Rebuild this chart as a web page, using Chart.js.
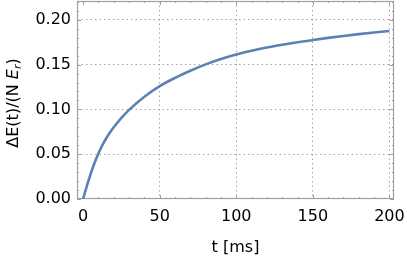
<!DOCTYPE html>
<html>
<head>
<meta charset="utf-8">
<script src="https://cdn.jsdelivr.net/npm/chart.js@4"></script>
<style>
  html, body { margin: 0; padding: 0; background: #fff; }
  #wrap { width: 407px; height: 262px; }
</style>
</head>
<body>
<div id="wrap"><canvas id="myChart"></canvas></div>
<script>
// values
const timeMs = [0, 2.5, 5, 7.5, 10, 12.5, 15, 17.5, 20, 25, 30, 40, 50, 60, 70, 80, 90, 100,
    110, 120, 130, 140, 150, 160, 170, 180, 190, 200];
const energy = [0, 0.0150, 0.0285, 0.0405, 0.0508, 0.0598, 0.0675, 0.0742, 0.0800, 0.0905, 0.0995,
    0.1142, 0.1260, 0.1352, 0.1432, 0.1503, 0.1563, 0.1613, 0.1654, 0.1690, 0.1721, 0.1749,
    0.1774, 0.1798, 0.1820, 0.1840, 0.1858, 0.1875];

const xTicks = [0, 50, 100, 150, 200];
const yTicks = [0, 0.05, 0.10, 0.15, 0.20];

const fontFamily = "'DejaVu Sans', sans-serif";
const lineColor = '#5e81b5';
const gridColor = 'rgba(150,150,150,0.85)';
const frameColor = '#a0a0a0';

// Mathematica-like frame with inward ticks on all four sides
const framePlugin = {
    id: 'frame',
    beforeDatasetsDraw(chart) {
        const {ctx, chartArea: a, scales: {x, y}} = chart;
        ctx.save();
        ctx.strokeStyle = frameColor;
        ctx.lineWidth = 1;
        ctx.beginPath();
        for (let v = 0; v <= 200; v += 10) {
            const px = Math.round(x.getPixelForValue(v)) + 0.5;
            const len = v % 50 === 0 ? 4 : 2;
            ctx.moveTo(px, a.bottom); ctx.lineTo(px, a.bottom - len);
            ctx.moveTo(px, a.top); ctx.lineTo(px, a.top + len);
        }
        for (let i = 0; i <= 22; i++) {
            const py = Math.round(y.getPixelForValue(i / 100)) + 0.5;
            const len = i % 5 === 0 ? 4 : 2;
            ctx.moveTo(a.left, py); ctx.lineTo(a.left + len, py);
            ctx.moveTo(a.right, py); ctx.lineTo(a.right - len, py);
        }
        ctx.stroke();
        ctx.lineWidth = 1.2;
        ctx.strokeRect(Math.round(a.left) + 0.5, Math.round(a.top) + 0.5,
            Math.round(a.right - a.left) - 1, Math.round(a.bottom - a.top) - 1);
        ctx.restore();
    }
};

// y axis title with italic E and subscript r
const yTitlePlugin = {
    id: 'yTitle',
    afterDraw(chart) {
        const {ctx, chartArea: a} = chart;
        const parts = [
            {t: '\u0394E(t)/(N ', f: `16px ${fontFamily}`, dy: 0},
            {t: 'E', f: `italic 16px ${fontFamily}`, dy: 0},
            {t: 'r', f: `italic 11px ${fontFamily}`, dy: 4},
            {t: ')', f: `16px ${fontFamily}`, dy: 0}
        ];
        ctx.save();
        let total = 0;
        parts.forEach(p => { ctx.font = p.f; p.w = ctx.measureText(p.t).width; total += p.w; });
        ctx.translate(14, (a.top + a.bottom) / 2 + 3);
        ctx.rotate(-Math.PI / 2);
        ctx.fillStyle = '#000';
        ctx.textBaseline = 'middle';
        let cx = -total / 2;
        parts.forEach(p => {
            ctx.font = p.f;
            ctx.fillText(p.t, cx, p.dy);
            cx += p.w;
        });
        ctx.restore();
    }
};

const chart = new Chart(document.getElementById('myChart'), {
    type: 'line',
    data: {
        datasets: [{
            data: timeMs.map((t, i) => ({x: t, y: energy[i]})),
            borderColor: lineColor,
            borderWidth: 2.6,
            pointRadius: 0,
            fill: false,
            cubicInterpolationMode: 'monotone'
        }]
    },
    options: {
        responsive: true,
        maintainAspectRatio: false,
        animation: false,
        layout: {padding: {left: 0, top: 1, right: 13, bottom: 0}},
        plugins: {legend: {display: false}, tooltip: {enabled: false}},
        scales: {
            x: {
                type: 'linear',
                min: -4,
                max: 203,
                afterBuildTicks: s => { s.ticks = xTicks.map(v => ({value: v})); },
                afterFit: s => { s.height = 63; s.paddingLeft = 0; s.paddingRight = 0; },
                ticks: {color: '#000', font: {family: fontFamily, size: 16}, padding: 8, maxRotation: 0},
                grid: {
                    drawTicks: false,
                    lineWidth: 1,
                    color: c => (c.tick && c.tick.value === 0) ? 'rgba(0,0,0,0)' : gridColor
                },
                border: {display: false, dash: [1.5, 3]},
                title: {
                    display: true, text: 't [ms]', color: '#000',
                    font: {family: fontFamily, size: 16}, padding: {top: 0, bottom: 5}
                }
            },
            y: {
                min: 0,
                max: 0.221,
                afterBuildTicks: s => { s.ticks = yTicks.map(v => ({value: v})); },
                afterFit: s => { s.width = 77; s.paddingTop = 0; s.paddingBottom = 0; },
                ticks: {
                    color: '#000', font: {family: fontFamily, size: 16}, padding: 6,
                    callback: v => v.toFixed(2)
                },
                grid: {
                    drawTicks: false,
                    lineWidth: 1,
                    color: c => (c.tick && c.tick.value === 0) ? 'rgba(0,0,0,0)' : gridColor
                },
                border: {display: false, dash: [1.5, 3]}
            }
        }
    },
    plugins: [framePlugin, yTitlePlugin]
});
</script>
</body>
</html>
